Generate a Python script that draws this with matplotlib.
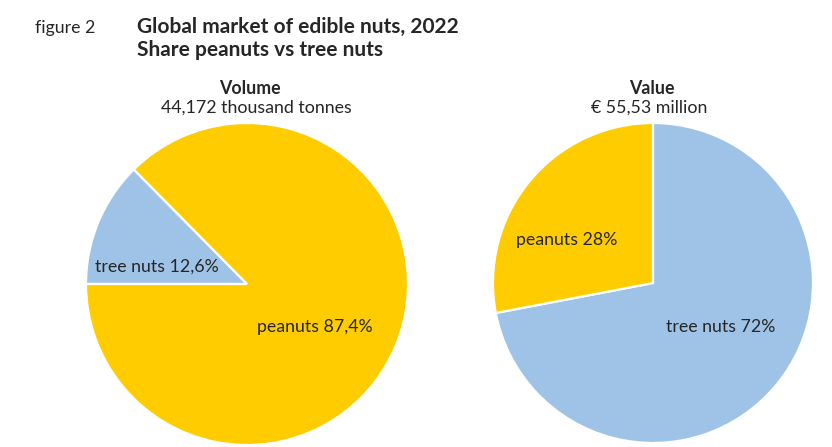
import matplotlib.pyplot as plt

plt.rcParams['font.family'] = ['Lato', 'DejaVu Sans']

# data
labels = ['tree nuts', 'peanuts']
volume_share = [12.6, 87.4]
value_share = [72, 28]
volume_txt = ['tree nuts 12,6%', 'peanuts 87,4%']
value_txt = ['tree nuts 72%', 'peanuts 28%']
colors = ['#9FC3E7', '#FFCC00']
ink = '#262626'

W, H = 832, 447
fig = plt.figure(figsize=(W / 100, H / 100), dpi=100)
ax = fig.add_axes([0, 0, 1, 1])


def Y(py):
    # pixel row from top -> data y
    return H - py


wp = dict(edgecolor='white', linewidth=1.6)
# left pie: volume
ax.pie(volume_share, colors=colors, startangle=180, counterclock=False,
       center=(247, Y(284)), radius=161, wedgeprops=wp, frame=True)
# right pie: value
ax.pie(value_share, colors=colors, startangle=90, counterclock=False,
       center=(653, Y(283)), radius=160, wedgeprops=wp, frame=True)
ax.set_xlim(0, W)
ax.set_ylim(0, H)
ax.set_aspect('equal')
ax.axis('off')

fs = 12.8
# labels inside wedges
ax.text(157, Y(267), volume_txt[0], fontsize=fs, color=ink, ha='center', va='center')
ax.text(315, Y(327), volume_txt[1], fontsize=fs, color=ink, ha='center', va='center')
ax.text(721, Y(327), value_txt[0], fontsize=fs, color=ink, ha='center', va='center')
ax.text(567, Y(240), value_txt[1], fontsize=fs, color=ink, ha='center', va='center')

# headings
ax.text(35, Y(28), 'figure 2', fontsize=fs, color=ink, ha='left', va='center')
ax.text(137, Y(27), 'Global market of edible nuts, 2022', fontsize=15,
        fontweight='bold', color=ink, ha='left', va='center')
ax.text(137, Y(50), 'Share peanuts vs tree nuts', fontsize=15,
        fontweight='bold', color=ink, ha='left', va='center')

ax.text(250, Y(89), 'Volume', fontsize=fs, fontweight='bold', color=ink,
        ha='center', va='center')
ax.text(256, Y(108), '44,172 thousand tonnes', fontsize=fs, color=ink,
        ha='center', va='center')
ax.text(652, Y(89), 'Value', fontsize=fs, fontweight='bold', color=ink,
        ha='center', va='center')
ax.text(649, Y(108), '€ 55,53 million', fontsize=fs, color=ink,
        ha='center', va='center')

fig.savefig('out.png', dpi=100)
